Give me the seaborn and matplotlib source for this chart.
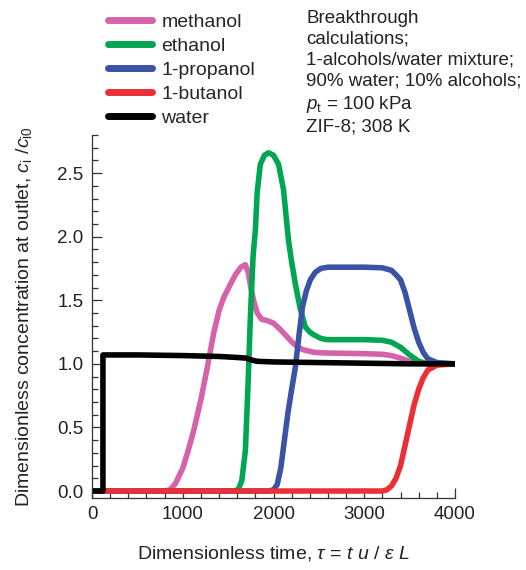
import matplotlib
matplotlib.use("Agg")
import matplotlib.pyplot as plt
import seaborn as sns
import pandas as pd
from matplotlib.ticker import MultipleLocator

# ---- data ----
methanol_tau = [0, 800, 860, 920, 1000, 1060, 1115, 1200, 1270, 1340, 1400, 1450, 1520, 1580, 1640,
                1690, 1720, 1750, 1780, 1820, 1870, 1930, 2000, 2075, 2140, 2205, 2270, 2330, 2450,
                2590, 3000, 3200, 3300, 3400, 3500, 3600, 3700, 4000]
methanol_c = [0, 0, 0.01, 0.06, 0.18, 0.32, 0.46, 0.72, 0.97, 1.24, 1.42, 1.52, 1.62, 1.70, 1.76,
              1.78, 1.72, 1.60, 1.50, 1.40, 1.35, 1.34, 1.32, 1.27, 1.22, 1.17, 1.13, 1.11, 1.09,
              1.085, 1.08, 1.075, 1.065, 1.045, 1.02, 1.005, 1.0, 1.0]

ethanol_tau = [0, 1560, 1610, 1650, 1690, 1720, 1745, 1775, 1800, 1820, 1855, 1900, 1945, 2000, 2055,
               2110, 2165, 2200, 2240, 2295, 2350, 2400, 2440, 2520, 2590, 3000, 3200, 3300, 3400,
               3500, 3600, 3700, 4000]
ethanol_c = [0, 0, 0.01, 0.08, 0.32, 0.85, 1.37, 1.85, 2.05, 2.35, 2.57, 2.64, 2.66, 2.64, 2.57,
             2.37, 1.97, 1.80, 1.63, 1.43, 1.29, 1.25, 1.23, 1.20, 1.19, 1.19, 1.185, 1.17, 1.13,
             1.07, 1.02, 1.0, 1.0]

propanol_tau = [0, 1950, 2000, 2040, 2080, 2120, 2160, 2200, 2240, 2280, 2320, 2360, 2405, 2460, 2520,
                2600, 3000, 3200, 3300, 3350, 3400, 3450, 3500, 3550, 3600, 3650, 3700, 3800, 4000]
propanol_c = [0, 0, 0.01, 0.05, 0.18, 0.40, 0.62, 0.80, 0.97, 1.22, 1.45, 1.57, 1.66, 1.72, 1.75,
              1.76, 1.76, 1.755, 1.735, 1.70, 1.66, 1.56, 1.42, 1.28, 1.17, 1.09, 1.04, 1.01, 1.0]

butanol_tau = [0, 3200, 3250, 3300, 3350, 3400, 3450, 3500, 3550, 3600, 3650, 3700, 3800, 4000]
butanol_c = [0, 0, 0.01, 0.04, 0.1, 0.2, 0.36, 0.52, 0.68, 0.8, 0.89, 0.95, 0.99, 1.0]

water_tau = [0, 120, 120, 500, 1000, 1400, 1600, 1700, 1760, 1820, 2000, 2500, 3000, 3500, 4000]
water_c = [0, 0, 1.07, 1.07, 1.065, 1.058, 1.05, 1.045, 1.03, 1.02, 1.015, 1.01, 1.005, 1.0, 1.0]

series_names = ["methanol", "ethanol", "1-propanol", "1-butanol", "water"]
series_colors = ["#d463aa", "#00a651", "#3a53a4", "#ec2f37", "#000000"]
series_data = [(methanol_tau, methanol_c), (ethanol_tau, ethanol_c), (propanol_tau, propanol_c),
               (butanol_tau, butanol_c), (water_tau, water_c)]

x_ticks = [0, 1000, 2000, 3000, 4000]
y_ticks = [0.0, 0.5, 1.0, 1.5, 2.0, 2.5]

annotation_lines = ["Breakthrough", "calculations;", "1-alcohols/water mixture;",
                    "90% water; 10% alcohols;", r"$p_\mathrm{t}$ = 100 kPa", "ZIF-8; 308 K"]

# ---- style ----
sns.set_theme(style="ticks")
plt.rcParams["font.family"] = ["Liberation Sans", "DejaVu Sans"]
plt.rcParams["mathtext.fontset"] = "custom"
plt.rcParams["mathtext.rm"] = "Liberation Sans"
plt.rcParams["mathtext.it"] = "Liberation Sans:italic"
plt.rcParams["mathtext.cal"] = "Liberation Sans:italic"

fig = plt.figure(figsize=(5.26, 5.70), dpi=100)
ax = fig.add_axes([0.175, 0.1263, 0.69, 0.637])

for name, color, (t, c) in zip(series_names, series_colors, series_data):
    df = pd.DataFrame({"tau": t, "c": c})
    sns.lineplot(data=df, x="tau", y="c", ax=ax, color=color, lw=4.0, sort=False,
                 label=name, solid_capstyle="round", solid_joinstyle="round", estimator=None)

ax.set_xlim(0, 4000)
ax.set_ylim(-0.055, 2.8)
ax.set_xticks(x_ticks)
ax.set_yticks(y_ticks)
ax.set_xticklabels([str(v) for v in x_ticks])
ax.set_yticklabels([f"{v:.1f}" for v in y_ticks])
ax.xaxis.set_minor_locator(MultipleLocator(200))
ax.yaxis.set_minor_locator(MultipleLocator(0.1))
ax.tick_params(axis="both", which="major", direction="in", length=7, width=0.9,
               labelsize=13.5, colors="#333333", labelcolor="#222222", pad=6)
ax.tick_params(axis="both", which="minor", direction="in", length=4, width=0.9, colors="#333333")
for s in ["top", "right"]:
    ax.spines[s].set_visible(False)
for s in ["left", "bottom"]:
    ax.spines[s].set_color("#333333")
    ax.spines[s].set_linewidth(0.9)

ax.set_xlabel(r"Dimensionless time, $\tau$ = $t$ $u$ / $\varepsilon$ $L$", fontsize=14,
              color="#222222", labelpad=15)
ax.set_ylabel(r"Dimensionless concentration at outlet, $c_\mathrm{i}$ /$c_\mathrm{i0}$", fontsize=14,
              color="#222222", labelpad=17)

leg = ax.legend(loc="upper left", bbox_to_anchor=(0.19, 0.99), bbox_transform=fig.transFigure,
                frameon=False, fontsize=14, handlelength=2.3, handletextpad=0.45,
                labelspacing=0.33, borderaxespad=0)
for line in leg.get_lines():
    line.set_linewidth(5)

fig.text(0.582, 0.983, "\n".join(annotation_lines), fontsize=13.5, va="top", ha="left",
         color="#222222", linespacing=1.3)

fig.savefig("out.png", dpi=100)
